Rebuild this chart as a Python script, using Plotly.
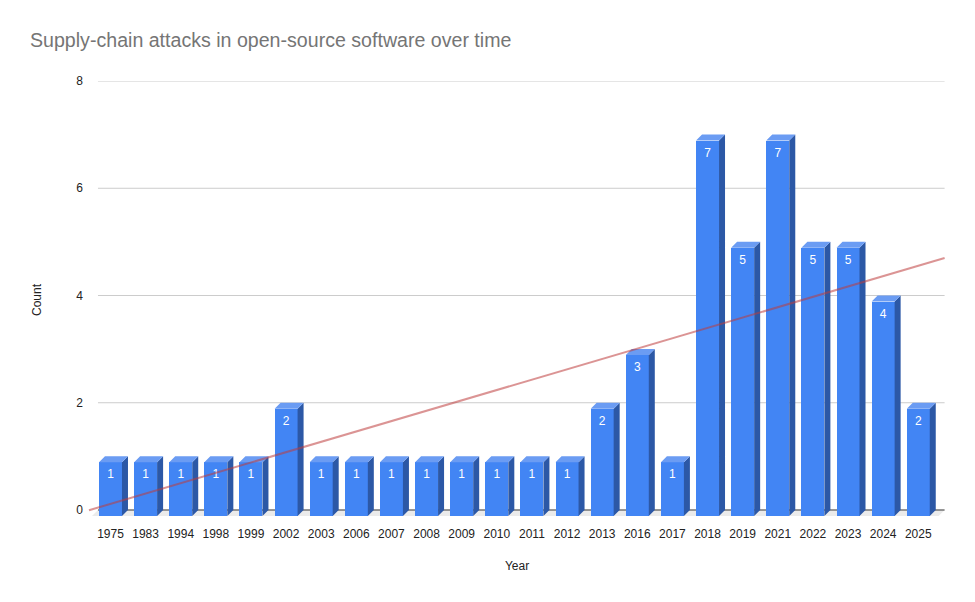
import plotly.graph_objects as go

years = ["1975", "1983", "1994", "1998", "1999", "2002", "2003", "2006", "2007", "2008",
         "2009", "2010", "2011", "2012", "2013", "2016", "2017", "2018", "2019", "2021",
         "2022", "2023", "2024", "2025"]
counts = [1, 1, 1, 1, 1, 2, 1, 1, 1, 1, 1, 1, 1, 1, 2, 3, 1, 7, 5, 7, 5, 5, 4, 2]

title_text = "Supply-chain attacks in open-source software over time"
x_title = "Year"
y_title = "Count"
y_ticks = [0, 2, 4, 6, 8]

FRONT = "#4285F4"
SIDE = "#2C58A6"
TOP = "#6B9CF3"
FONT = "Arial, Liberation Sans, sans-serif"

# geometry (in axis units)
PX_X = 35.12     # px per category
PX_Y = 53.625    # px per count unit
hw = 11.5 / PX_X     # half front width
dxu = 6.0 / PX_X     # depth offset x
dyu = 6.0 / PX_Y     # depth offset y
n = len(years)
xs = list(range(n))

x_lo, x_hi = -0.64, 23.79
y_lo, y_hi = -0.168, 8.0
back_lo, back_hi = -0.356, 23.75

# page has an 8px body margin, so the figure is sized to fit inside the window
W, H = 967, 594
OFF = 8

fig = go.Figure()

# front faces
fig.add_trace(go.Bar(x=xs, y=counts, base=[-dyu] * n, width=2 * hw,
                     marker=dict(color=FRONT, line=dict(width=0)),
                     hoverinfo="skip", showlegend=False))

# side and top faces
sx, sy = [], []
tx, ty = [], []
for i, v in zip(xs, counts):
    xr = i + hw
    sx += [xr, xr + dxu, xr + dxu, xr, xr, None]
    sy += [-dyu, 0, v, v - dyu, -dyu, None]
    xl = i - hw
    tx += [xl, xl + dxu, xr + dxu, xr, xl, None]
    ty += [v - dyu, v, v, v - dyu, v - dyu, None]
fig.add_trace(go.Scatter(x=sx, y=sy, mode="lines", fill="toself", fillcolor=SIDE,
                         line=dict(width=0, color=SIDE), hoverinfo="skip", showlegend=False))
fig.add_trace(go.Scatter(x=tx, y=ty, mode="lines", fill="toself", fillcolor=TOP,
                         line=dict(width=0, color=TOP), hoverinfo="skip", showlegend=False))

# data labels
fig.add_trace(go.Scatter(x=xs, y=[v - dyu - 13.0 / PX_Y for v in counts], mode="text",
                         text=[str(v) for v in counts],
                         textfont=dict(color="white", size=12, family=FONT),
                         hoverinfo="skip", showlegend=False))

# linear trendline (least squares over category index)
mx = sum(xs) / n
my = sum(counts) / n
slope = sum((a - mx) * (b - my) for a, b in zip(xs, counts)) / sum((a - mx) ** 2 for a in xs)
icpt = my - slope * mx
t0, t1 = -0.612, back_hi
fig.add_trace(go.Scatter(x=[t0, t1], y=[icpt + slope * t0, icpt + slope * t1], mode="lines",
                         line=dict(color="rgba(190,60,60,0.55)", width=2),
                         hoverinfo="skip", showlegend=False))

shapes = []
# floor
shapes.append(dict(type="path", xref="x", yref="y", layer="below",
                   path=f"M {back_lo} 0 L {back_hi} 0 L {back_hi - dxu} {-dyu} L {back_lo - dxu} {-dyu} Z",
                   fillcolor="#EBEBEB", line=dict(width=0)))
# gridlines
for t in y_ticks[1:]:
    shapes.append(dict(type="line", xref="x", yref="y", layer="below",
                       x0=back_lo, x1=back_hi, y0=t, y1=t,
                       line=dict(color="#CCCCCC", width=1)))
# baseline
shapes.append(dict(type="line", xref="x", yref="y", layer="below",
                   x0=back_lo, x1=back_hi, y0=0, y1=0,
                   line=dict(color="#333333", width=1)))

fig.update_layout(
    width=W, height=H,
    margin=dict(l=88 - OFF, r=975 - 946 - 0, t=81 - OFF, b=H - (519 - OFF)),
    paper_bgcolor="white", plot_bgcolor="white",
    title=dict(text=title_text, x=(30 - OFF) / W, xanchor="left",
               y=1 - (40 - OFF) / H, yanchor="middle",
               font=dict(family=FONT, size=19.6, color="#757575")),
    font=dict(family=FONT, size=12, color="#222222"),
    shapes=shapes,
    bargap=0,
    xaxis=dict(range=[x_lo, x_hi], tickmode="array", tickvals=xs, ticktext=years,
               showgrid=False, zeroline=False, showline=False, ticks="",
               ticklabelstandoff=6,
               tickfont=dict(size=12, color="#222222", family=FONT),
               title=dict(text=x_title, standoff=21, font=dict(size=12, color="#222222", family=FONT))),
    yaxis=dict(range=[y_lo, y_hi], tickmode="array", tickvals=y_ticks,
               ticktext=[str(t) for t in y_ticks],
               showgrid=False, zeroline=False, showline=False, ticks="",
               ticklabelstandoff=4,
               tickfont=dict(size=12, color="#222222", family=FONT),
               title=dict(text=y_title, standoff=32, font=dict(size=12, color="#222222", family=FONT))),
)

fig.write_html("out.html")
